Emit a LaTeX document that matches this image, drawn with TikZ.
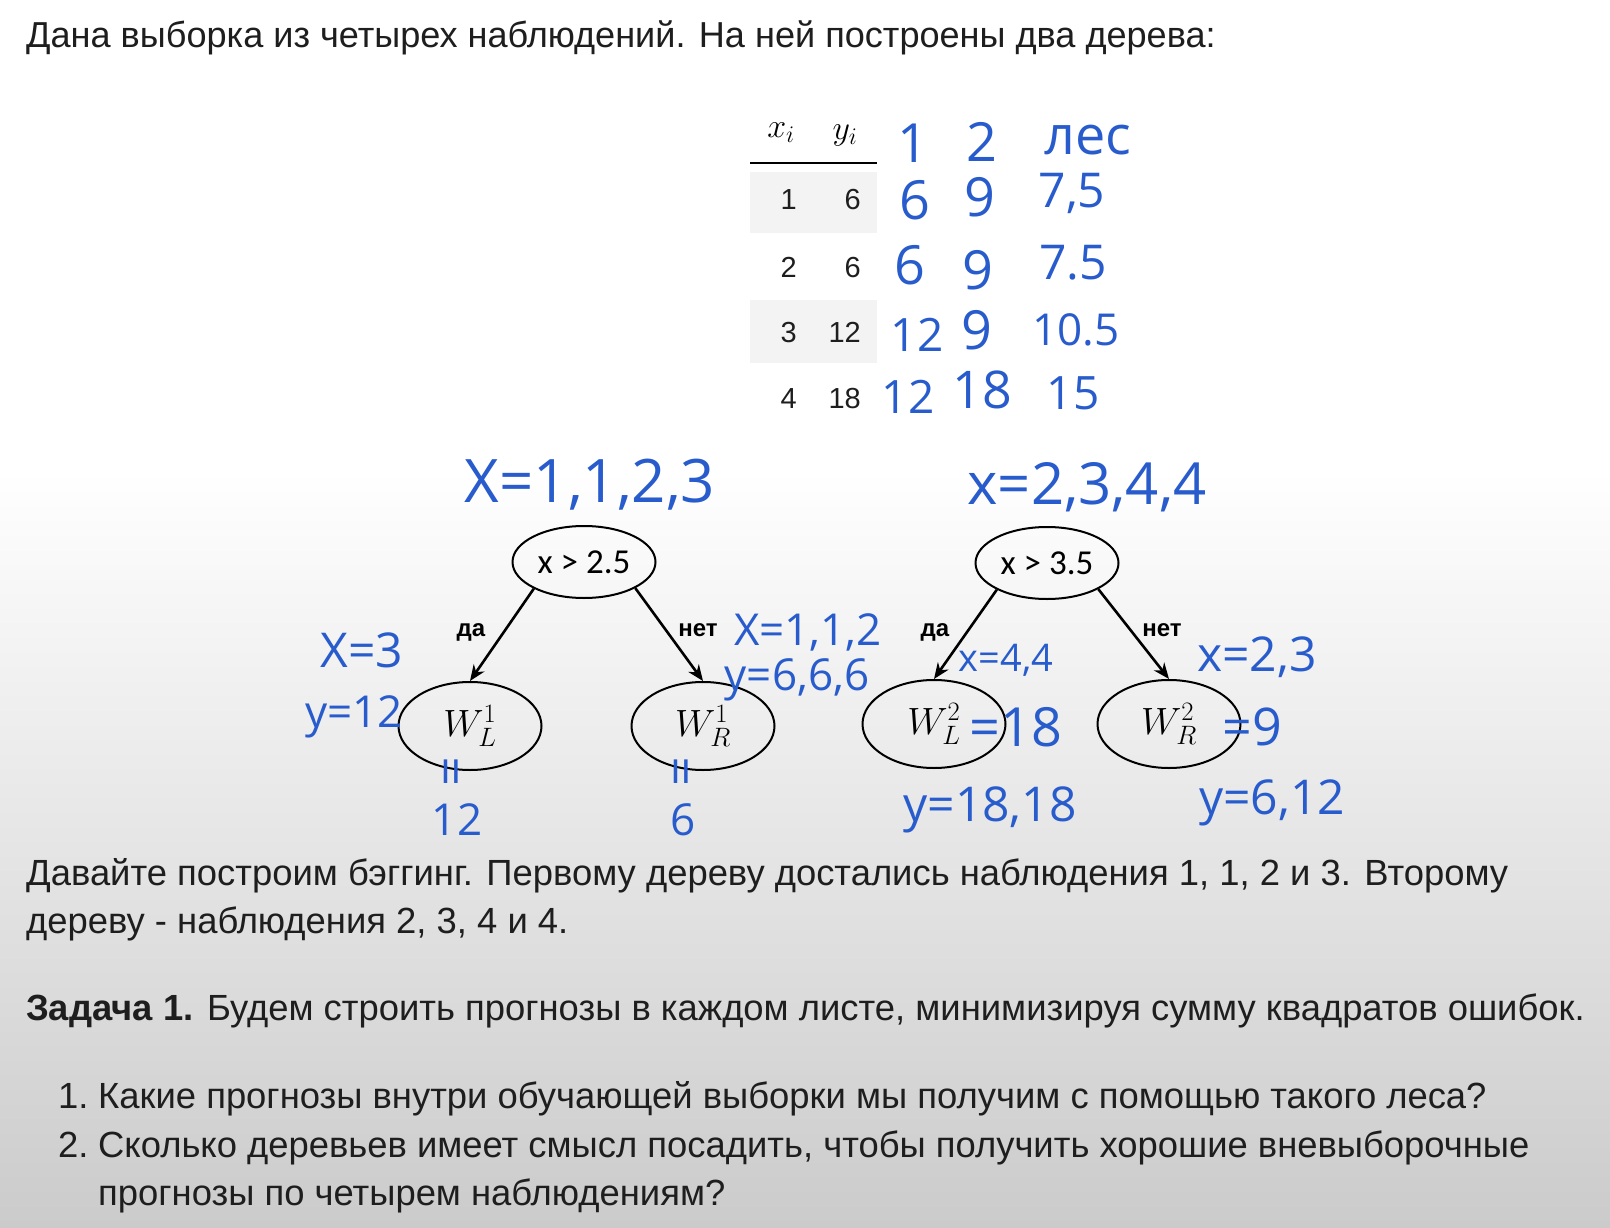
\RequirePackage{fix-cm}
\documentclass[tikz,border=0pt]{standalone}
\usepackage{fontspec}
\setmainfont{Liberation Sans}
\newfontfamily\carlitofont{Carlito}
\newfontfamily\handfont{Open Sans}
\usetikzlibrary{shapes.geometric,arrows.meta}
\definecolor{hand}{RGB}{40,92,205}
\definecolor{bggray}{RGB}{203,203,203}
\definecolor{rowgray}{RGB}{243,243,243}
\definecolor{ink}{RGB}{30,30,30}
\begin{document}
\begin{tikzpicture}[x=1pt,y=-1pt,
  hw/.style={text=hand, font=\handfont\fontsize{#1}{#1}\selectfont, inner sep=0pt},
  body/.style={anchor=base west, inner sep=0pt, text=ink, font=\fontsize{36.4}{42}\selectfont},
  cell/.style={anchor=base east, inner sep=0pt, text=ink, font=\fontsize{29}{29}\selectfont},
  split/.style={draw, line width=2pt, ellipse, minimum width=143pt, minimum height=72pt, inner sep=0pt, font=\carlitofont\fontsize{35}{35}\selectfont},
  leaf/.style={draw, line width=2pt, ellipse, minimum width=143pt, minimum height=88pt, inner sep=0pt, font=\fontsize{38}{38}\selectfont},
  branch/.style={line width=2.6pt, -{Stealth[length=16pt,width=13pt]}},
  blabel/.style={anchor=base, font=\bfseries\fontsize{24}{24}\selectfont, inner sep=0pt}
]
% background
\fill[white] (0,0) rectangle (1610,1228);
\shade[top color=white, bottom color=bggray] (0,470) rectangle (1610,1228);
\useasboundingbox (0,0) rectangle (1610,1228);

% title
\node[body, font=\fontsize{36.1}{42}\selectfont] (title) at (26,48) {Дана выборка из четырех наблюдений. На ней построены два дерева:};

% table
\fill[rowgray] (750,172) rectangle (877,233);
\fill[rowgray] (750,300) rectangle (877,363);
\draw[line width=2.5pt] (750,163) -- (877,163);
\node[inner sep=0pt, font=\fontsize{34}{34}\selectfont] (hx) at (781,133) {$x_i$};
\node[inner sep=0pt, font=\fontsize{34}{34}\selectfont] (hy) at (845,135) {$y_i$};
\node[cell] (a1) at (797,210) {1}; \node[cell] (b1) at (861,210) {6};
\node[cell] (a2) at (797,277) {2}; \node[cell] (b2) at (861,277) {6};
\node[cell] (a3) at (797,342) {3}; \node[cell] (b3) at (861,342) {12};
\node[cell] (a4) at (797,408) {4}; \node[cell] (b4) at (861,408) {18};

% handwritten table columns
\node[hw=54] (c1h) at (913,143) {1};
\node[hw=54] (c2h) at (982,142) {2};
\node[hw=54] (c3h) at (1088,140) {лес};
\node[hw=54] (c11) at (915,200) {6};
\node[hw=54] (c21) at (980,197) {9};
\node[hw=48] (c31) at (1072,193) {7,5};
\node[hw=54] (c12) at (910,265) {6};
\node[hw=54] (c22) at (978,270) {9};
\node[hw=48] (c32) at (1073,263) {7.5};
\node[hw=46] (c13) at (917,335) {12};
\node[hw=54] (c23) at (977,330) {9};
\node[hw=44] (c33) at (1076,330) {10.5};
\node[hw=46] (c14) at (908,397) {12};
\node[hw=52] (c24) at (982,390) {18};
\node[hw=46] (c34) at (1073,393) {15};

% tree 1
\node[split] (r1) at (584,562) {x > 2.5};
\node[leaf] (l1) at (470,726) {$W_L^1$};
\node[leaf] (q1) at (703,726) {$W_R^1$};
\draw[branch] (r1.-152) -- (l1.north);
\draw[branch] (r1.-27) -- (q1.north);
\node[blabel] (y1) at (471,636) {да};
\node[blabel] (n1l) at (698,636) {нет};

% tree 2
\node[split] (r2) at (1047,563) {x > 3.5};
\node[leaf] (l2) at (934,724) {$W_L^2$};
\node[leaf] (q2) at (1169,724) {$W_R^2$};
\draw[branch] (r2.-152) -- (l2.north);
\draw[branch] (r2.-27) -- (q2.north);
\node[blabel] (y2) at (935,636) {да};
\node[blabel] (n2l) at (1162,636) {нет};

% handwritten notes, tree 1
\node[hw=60] (s1) at (590,485) {X=1,1,2,3};
\node[hw=48] (lx1) at (362,650) {X=3};
\node[hw=44] (ly1) at (354,717) {y=12};
\node[hw=44] (rx1) at (808,632) {X=1,1,2};
\node[hw=44] (ry1) at (797,680) {y=6,6,6};
\node[hw=52, rotate=90] (le1) at (457,772) {=};
\node[hw=44] (lv1) at (457,820) {12};
\node[hw=52, rotate=90] (re1) at (687,772) {=};
\node[hw=44] (rv1) at (683,820) {6};

% handwritten notes, tree 2
\node[hw=58] (s2) at (1087,487) {x=2,3,4,4};
\node[hw=38] (lx2) at (1006,660) {x=4,4};
\node[hw=54] (lv2) at (1016,727) {=18};
\node[hw=48] (ly2) at (990,810) {y=18,18};
\node[hw=48] (rx2) at (1257,657) {x=2,3};
\node[hw=52] (rv2) at (1252,727) {=9};
\node[hw=48] (ry2) at (1272,803) {y=6,12};

% bottom text
\node[body] (p1a) at (26,885) {Давайте построим бэггинг. Первому дереву достались наблюдения 1, 1, 2 и 3. Второму};
\node[body] (p1b) at (26,933) {дереву - наблюдения 2, 3, 4 и 4.};
\node[body] (p2) at (26,1020) {\textbf{Задача 1.} Будем строить прогнозы в каждом листе, минимизируя сумму квадратов ошибок.};
\node[body] (k1) at (58,1108) {1.};
\node[body] (i1) at (98,1108) {Какие прогнозы внутри обучающей выборки мы получим с помощью такого леса?};
\node[body] (k2) at (58,1157) {2.};
\node[body] (i2) at (98,1157) {Сколько деревьев имеет смысл посадить, чтобы получить хорошие вневыборочные};
\node[body] (i2b) at (98,1205) {прогнозы по четырем наблюдениям?};
\end{tikzpicture}
\end{document}
